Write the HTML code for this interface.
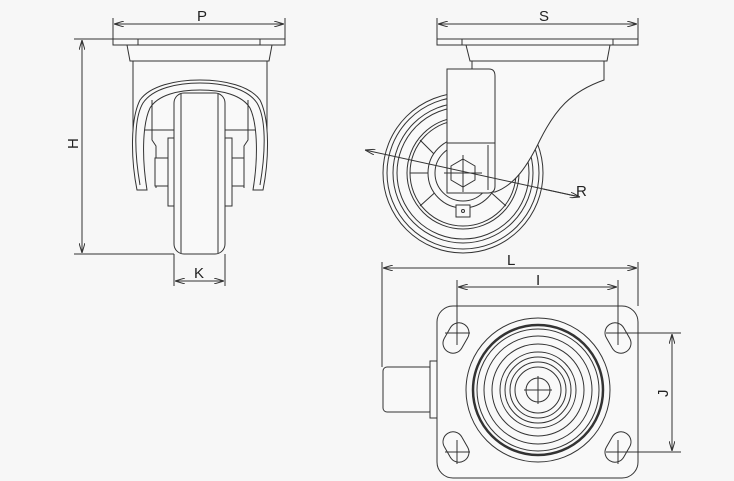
<!DOCTYPE html>
<html><head><style>
html,body{margin:0;padding:0;background:#f7f7f7;}
svg{display:block;}
text{font-family:"Liberation Sans",Arial,sans-serif;font-size:15px;fill:#222;}
</style></head><body>
<svg width="734" height="481" viewBox="0 0 734 481" xmlns="http://www.w3.org/2000/svg">
<defs>
<marker id="a" viewBox="0 0 10 6" refX="10" refY="3" markerWidth="10" markerHeight="6" orient="auto-start-reverse" markerUnits="userSpaceOnUse"><path d="M0,0 L10,3 L0,6" fill="none" stroke="#333" stroke-width="1"/></marker>
</defs>
<rect width="734" height="481" fill="#f7f7f7"/>
<g stroke="#333" stroke-width="1" fill="#f9f9f9">
<!-- LEFT VIEW -->
<rect x="113" y="39" width="172" height="6"/>
<line x1="138" y1="39" x2="138" y2="45"/><line x1="260" y1="39" x2="260" y2="45"/>
<path d="M127,45 H272 L269,61 H130 Z"/>
<path d="M133,61 H267 V130 H133 Z"/>
<path d="M137,190 C131,160 130,120 140,100 C150,86 175,80 200,80 C225,80 250,86 260,100 C270,120 269,160 263,190 L253,190 C258,160 258,125 250,108 C242,95 222,90 200,90 C178,90 158,95 150,108 C142,125 142,160 147,190 Z"/>
<path d="M140,185 C134,150 134,118 143,103 C153,88 178,83 200,83 C222,83 247,88 257,103 C266,118 266,150 260,185" fill="none"/>
<path d="M152,100 V140 L156,146 V188 M248,100 V140 L244,146 V188" fill="none"/>
<rect x="155" y="158" width="18" height="28"/><rect x="226" y="158" width="18" height="28"/>
<rect x="168" y="138" width="8" height="68"/><rect x="224" y="138" width="8" height="68"/>
<rect x="174" y="93" width="51" height="161" rx="10"/>
<line x1="181" y1="94" x2="181" y2="253"/><line x1="218" y1="94" x2="218" y2="253"/>
<!-- MIDDLE VIEW -->
<circle cx="463" cy="173" r="80"/>
<circle cx="463" cy="173" r="76" fill="none"/>
<circle cx="463" cy="173" r="70" fill="none"/>
<circle cx="463" cy="173" r="66" fill="none"/>
<circle cx="463" cy="173" r="56" fill="none"/>
<circle cx="463" cy="173" r="53" fill="none"/>
<path d="M420,140 L440,160 M506,140 L486,160 M420,206 L440,188 M506,206 L486,188 M410,173 H436 M490,173 H516" fill="none"/>
<circle cx="463" cy="173" r="35"/>
<circle cx="463" cy="173" r="28" fill="none"/>
<rect x="456" y="205" width="14" height="12"/><circle cx="463" cy="211" r="1.5"/>
<rect x="437" y="39" width="201" height="6"/>
<line x1="462" y1="39" x2="462" y2="45"/><line x1="613" y1="39" x2="613" y2="45"/>
<path d="M466,45 H610 L607,61 H470 Z"/>
<path d="M472,61 H604 V80 C570,92 555,110 540,140 C528,165 515,185 495,192 L472,192 Z"/>
<path d="M447,143 H495 V186 Q495,193 488,193 H447 Z"/>
<path d="M447,69 H489 Q495,69 495,76 V143 H447 Z"/>
<line x1="488" y1="145" x2="488" y2="190"/>
<path d="M463,159 L475,166 L475,180 L463,187 L451,180 L451,166 Z"/>
<line x1="444" y1="173" x2="482" y2="173"/><line x1="463" y1="155" x2="463" y2="192"/>
<!-- BOTTOM VIEW -->
<rect x="383" y="367" width="50" height="45" rx="4"/>
<rect x="430" y="361" width="8" height="57"/>
<rect x="437" y="306" width="201" height="172" rx="16"/>
<g fill="none">
<rect x="446" y="322" width="20" height="32" rx="10" transform="rotate(30 456 338)"/>
<rect x="608" y="322" width="20" height="32" rx="10" transform="rotate(-30 618 338)"/>
<rect x="446" y="431" width="20" height="32" rx="10" transform="rotate(-30 456 447)"/>
<rect x="608" y="431" width="20" height="32" rx="10" transform="rotate(30 618 447)"/>
<line x1="445" y1="333" x2="470" y2="333"/><line x1="457" y1="300" x2="457" y2="345"/>
<line x1="606" y1="333" x2="630" y2="333"/><line x1="618" y1="300" x2="618" y2="345"/>
<line x1="445" y1="452" x2="470" y2="452"/><line x1="457" y1="440" x2="457" y2="464"/>
<line x1="606" y1="452" x2="630" y2="452"/><line x1="618" y1="440" x2="618" y2="464"/>
<circle cx="538" cy="390" r="72"/>
<circle cx="538" cy="390" r="65" stroke-width="2.5"/>
<circle cx="538" cy="390" r="61"/>
<circle cx="538" cy="390" r="54"/>
<circle cx="538" cy="390" r="46"/>
<circle cx="538" cy="390" r="38"/>
<circle cx="538" cy="390" r="33"/>
<circle cx="538" cy="390" r="28"/>
<circle cx="538" cy="390" r="23"/>
<circle cx="538" cy="390" r="12"/>
<line x1="524" y1="390" x2="552" y2="390"/><line x1="538" y1="376" x2="538" y2="404"/>
</g>
</g>
<!-- DIMENSIONS -->
<g stroke="#333" stroke-width="1" fill="none">
<line x1="113" y1="18" x2="113" y2="39"/><line x1="285" y1="18" x2="285" y2="39"/>
<line x1="114" y1="24" x2="284" y2="24" marker-start="url(#a)" marker-end="url(#a)"/>
<line x1="74" y1="39" x2="113" y2="39"/><line x1="74" y1="254" x2="174" y2="254"/>
<line x1="82" y1="40" x2="82" y2="253" marker-start="url(#a)" marker-end="url(#a)"/>
<line x1="174" y1="254" x2="174" y2="286"/><line x1="225" y1="254" x2="225" y2="286"/>
<line x1="175" y1="281" x2="224" y2="281" marker-start="url(#a)" marker-end="url(#a)"/>
<line x1="437" y1="18" x2="437" y2="39"/><line x1="638" y1="18" x2="638" y2="39"/>
<line x1="438" y1="24" x2="637" y2="24" marker-start="url(#a)" marker-end="url(#a)"/>
<line x1="365" y1="150" x2="580" y2="197" marker-start="url(#a)"/>
<line x1="543" y1="189" x2="580" y2="197" marker-end="url(#a)"/>
<line x1="382" y1="262" x2="382" y2="367"/><line x1="638" y1="262" x2="638" y2="306"/>
<line x1="383" y1="268" x2="637" y2="268" marker-start="url(#a)" marker-end="url(#a)"/>
<line x1="457" y1="280" x2="457" y2="300"/><line x1="618" y1="280" x2="618" y2="300"/>
<line x1="458" y1="287" x2="617" y2="287" marker-start="url(#a)" marker-end="url(#a)"/>
<line x1="630" y1="333" x2="681" y2="333"/><line x1="630" y1="452" x2="681" y2="452"/>
<line x1="672" y1="334" x2="672" y2="451" marker-start="url(#a)" marker-end="url(#a)"/>
</g>
<text x="197" y="21">P</text>
<text x="539" y="21">S</text>
<text x="194" y="278">K</text>
<text x="507" y="265">L</text>
<text x="536" y="285">I</text>
<text x="576" y="196">R</text>
<text transform="translate(78,149) rotate(-90)">H</text>
<text transform="translate(668,397) rotate(-90)">J</text>
</svg>
</body></html>
